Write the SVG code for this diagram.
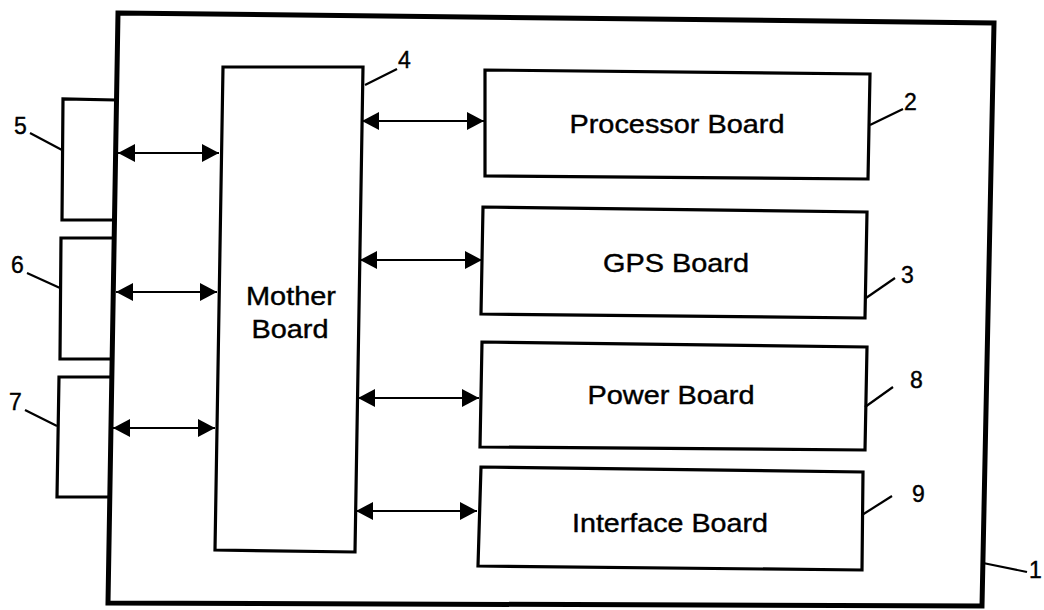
<svg xmlns="http://www.w3.org/2000/svg" width="1044" height="610" viewBox="0 0 1044 610">
<style>
.frame{fill:none;stroke:#000;stroke-width:5;stroke-linejoin:miter}
.box{fill:none;stroke:#000;stroke-width:3.2;stroke-linejoin:miter}
.conn{stroke:#000;stroke-width:2.2;fill:none}
.lead{stroke:#000;stroke-width:2.2;fill:none}
.lbl{font-family:"Liberation Sans",Arial,sans-serif;font-size:25.5px;fill:#000;stroke:#000;stroke-width:0.4;text-anchor:middle}
.num{font-family:"Liberation Sans",Arial,sans-serif;font-size:23px;fill:#000;stroke:#000;stroke-width:0.4}
</style>
<defs>
<marker id="ah" viewBox="0 0 17 18" refX="17" refY="9" markerWidth="17" markerHeight="18" markerUnits="userSpaceOnUse" orient="auto-start-reverse">
<path d="M0,0 L17,9 L0,18 Z" fill="#000"/>
</marker>
</defs>
<rect width="1044" height="610" fill="#fff"/>
<g id="enclosure">
<path class="frame" d="M118,13 L994,23 L982,606 L108,603 Z"/>
<path class="lead" d="M983,563 L1027,572"/>
<text class="num" x="1029" y="578">1</text>
</g>
<g id="port5">
<path class="box" d="M116,100 L63,99 L62,220 L115,220"/>
<path class="lead" d="M30,133 L62,150"/>
<text class="num" x="14" y="134">5</text>
</g>
<g id="port6">
<path class="box" d="M115,238 L61,238 L60,359 L113,359"/>
<path class="lead" d="M27,273 L60,288"/>
<text class="num" x="11" y="273">6</text>
</g>
<g id="port7">
<path class="box" d="M113,377 L59,377 L57,497 L111,497"/>
<path class="lead" d="M25,410 L57,426"/>
<text class="num" x="9" y="410">7</text>
</g>
<g id="mother-board">
<path class="box" d="M223,67 L363,67 L355,552 L215,550 Z"/>
<text class="lbl" x="291" y="305" textLength="90" lengthAdjust="spacingAndGlyphs">Mother</text>
<text class="lbl" x="290" y="338" textLength="77" lengthAdjust="spacingAndGlyphs">Board</text>
<path class="lead" d="M365,85 L397,69"/>
<text class="num" x="398" y="68">4</text>
</g>
<g id="processor-board">
<path class="box" d="M485,70 L870,74 L868,179 L485,176 Z"/>
<text class="lbl" x="677" y="133" textLength="215" lengthAdjust="spacingAndGlyphs">Processor Board</text>
<path class="lead" d="M870,125 L903,109"/>
<text class="num" x="904" y="110">2</text>
</g>
<g id="gps-board">
<path class="box" d="M483,207 L867,212 L865,318 L481,314 Z"/>
<text class="lbl" x="676" y="272" textLength="146" lengthAdjust="spacingAndGlyphs">GPS Board</text>
<path class="lead" d="M866,298 L895,278"/>
<text class="num" x="901" y="283">3</text>
</g>
<g id="power-board">
<path class="box" d="M482,342 L867,347 L865,450 L480,447 Z"/>
<text class="lbl" x="671" y="404" textLength="167" lengthAdjust="spacingAndGlyphs">Power Board</text>
<path class="lead" d="M865,407 L893,387"/>
<text class="num" x="910" y="388">8</text>
</g>
<g id="interface-board">
<path class="box" d="M481,467 L863,472 L862,570 L478,566 Z"/>
<text class="lbl" x="670" y="532" textLength="196" lengthAdjust="spacingAndGlyphs">Interface Board</text>
<path class="lead" d="M862,515 L892,496"/>
<text class="num" x="912" y="502">9</text>
</g>
<g id="connectors">
<line class="conn" x1="118" y1="153" x2="219" y2="153" marker-start="url(#ah)" marker-end="url(#ah)"/>
<line class="conn" x1="116" y1="292" x2="217" y2="292" marker-start="url(#ah)" marker-end="url(#ah)"/>
<line class="conn" x1="113" y1="428" x2="215" y2="428" marker-start="url(#ah)" marker-end="url(#ah)"/>
<line class="conn" x1="362" y1="121" x2="484" y2="121" marker-start="url(#ah)" marker-end="url(#ah)"/>
<line class="conn" x1="360" y1="260" x2="482" y2="260" marker-start="url(#ah)" marker-end="url(#ah)"/>
<line class="conn" x1="358" y1="398" x2="479" y2="398" marker-start="url(#ah)" marker-end="url(#ah)"/>
<line class="conn" x1="356" y1="511" x2="477" y2="511" marker-start="url(#ah)" marker-end="url(#ah)"/>
</g>
</svg>
